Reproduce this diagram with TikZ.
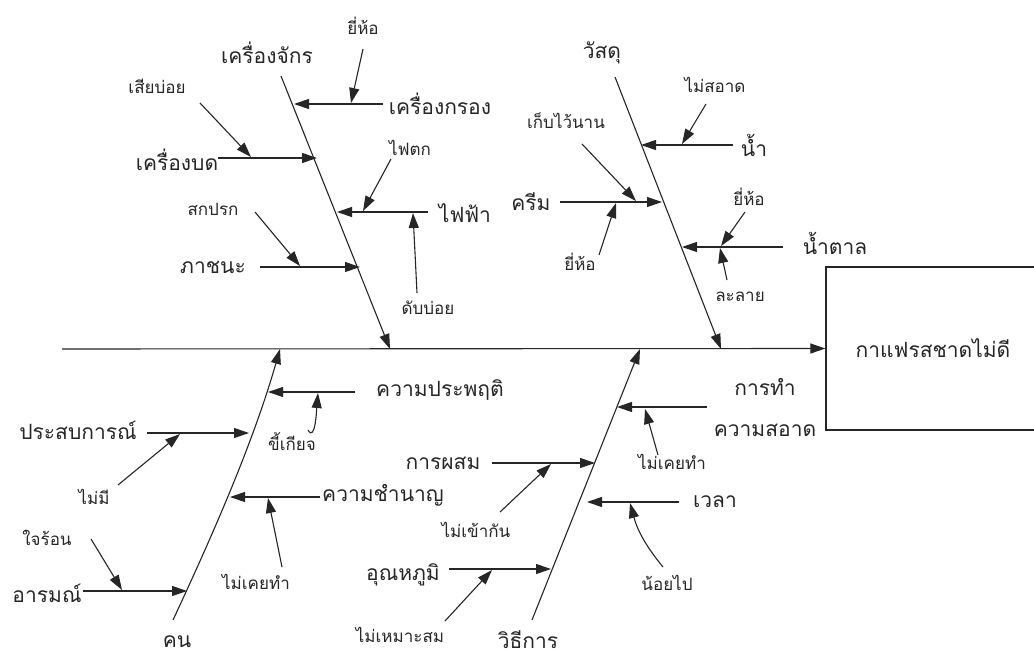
\documentclass[tikz,border=0pt]{standalone}
\usepackage{fontspec}
\newfontfamily\thaifont[Script=Thai]{Loma}
\usetikzlibrary{arrows.meta}
\colorlet{ink}{black!85}
\tikzset{
  big/.style={font=\thaifont\fontsize{21}{21}\selectfont, text=ink, inner sep=0pt},
  small/.style={font=\thaifont\fontsize{17}{17}\selectfont, text=ink, inner sep=0pt},
  bone/.style={draw=ink, line width=1.1pt},
  arr/.style={draw=ink, line width=1.1pt, -{Triangle[length=15pt,width=10pt]}},
  effbox/.style={draw=ink, line width=1.2pt, minimum width=214pt, minimum height=163pt, inner sep=0pt, font=\thaifont\fontsize{21}{21}\selectfont, text=ink}
}
\begin{document}
\begin{tikzpicture}[x=1pt,y=-1pt]
\useasboundingbox[fill=white] (0,0) rectangle (1034,650);
% effect and spine
\node[effbox] (eff) at (933,348.5) {กาแฟรสชาดไม่ดี};
\coordinate (spL) at (62,349);
\draw[arr] (spL) -- (eff.west);

% ---------- Machine ----------
\node[big] (mach) at (267,53) {เครื่องจักร};
\coordinate (mT) at (281,76); \coordinate (mB) at (390,349);
\draw[arr] (mT) -- (mB);
\node[big] (m1) at (440,104) {เครื่องกรอง};
\coordinate (m1s) at (383,104); \coordinate (m1t) at (294,104);
\draw[arr] (m1s) -- (m1t);
\node[small] (m1a) at (363,26) {ยี่ห้อ};
\coordinate (m1as) at (363,49); \coordinate (m1at) at (351,103);
\draw[arr] (m1as) -- (m1at);
\node[big] (m2) at (177,160) {เครื่องบด};
\coordinate (m2s) at (218,158); \coordinate (m2t) at (317,158);
\draw[arr] (m2s) -- (m2t);
\node[small] (m2a) at (157,86) {เสียบ่อย};
\coordinate (m2as) at (200,103); \coordinate (m2at) at (251,157);
\draw[arr] (m2as) -- (m2at);
\node[big] (m3) at (465,213) {ไฟฟ้า};
\coordinate (m3s) at (428,212); \coordinate (m3t) at (337,212);
\draw[arr] (m3s) -- (m3t);
\node[small] (m3a) at (410,148) {ไฟตก};
\coordinate (m3as) at (391,159); \coordinate (m3at) at (363,211);
\draw[arr] (m3as) -- (m3at);
\node[small] (m3b) at (428,308) {ดับบ่อย};
\coordinate (m3bs) at (417,293); \coordinate (m3bt) at (413,213);
\draw[arr] (m3bs) -- (m3bt);
\node[big] (m4) at (213,267) {ภาชนะ};
\coordinate (m4s) at (260,267); \coordinate (m4t) at (360,267);
\draw[arr] (m4s) -- (m4t);
\node[small] (m4a) at (213,209) {สกปรก};
\coordinate (m4as) at (255,212); \coordinate (m4at) at (300,266);
\draw[arr] (m4as) -- (m4at);

% ---------- Materials ----------
\node[big] (mat) at (602,53) {วัสดุ};
\coordinate (sT) at (615,77); \coordinate (sB) at (721,349);
\draw[arr] (sT) -- (sB);
\node[big] (s1) at (754,145) {น้ำ};
\coordinate (s1s) at (733,145); \coordinate (s1t) at (641,145);
\draw[arr] (s1s) -- (s1t);
\node[small] (s1a) at (715,85) {ไม่สอาด};
\coordinate (s1as) at (706,104); \coordinate (s1at) at (682,144);
\draw[arr] (s1as) -- (s1at);
\node[big] (s2) at (531,202) {ครีม};
\coordinate (s2s) at (560,202); \coordinate (s2t) at (662,202);
\draw[arr] (s2s) -- (s2t);
\node[small] (s2a) at (566,121) {เก็บไว้นาน};
\coordinate (s2as) at (582,144); \coordinate (s2at) at (636,201);
\draw[arr] (s2as) -- (s2at);
\node[small] (s2b) at (580,262) {ยี่ห้อ};
\coordinate (s2bs) at (599,255); \coordinate (s2bt) at (616,203);
\draw[arr] (s2bs) -- (s2bt);
\node[big] (s3) at (835,243) {น้ำตาล};
\coordinate (s3s) at (783,247); \coordinate (s3t) at (682,247);
\draw[arr] (s3s) -- (s3t);
\node[small] (s3a) at (749,197) {ยี่ห้อ};
\coordinate (s3as) at (745,212); \coordinate (s3at) at (721,246);
\draw[arr] (s3as) -- (s3at);
\node[small] (s3b) at (740,297) {ละลาย};
\coordinate (s3bs) at (727,280); \coordinate (s3bt) at (720,248);
\draw[arr] (s3bs) -- (s3bt);

% ---------- People ----------
\node[big] (ppl) at (177,642) {คน};
\coordinate (pB) at (173,620); \coordinate (pT) at (280,349);
\draw[arr] (pB) .. controls (215,530) and (254,440) .. (pT);
\node[big] (p1) at (440,390) {ความประพฤติ};
\coordinate (p1s) at (355,392); \coordinate (p1t) at (268,392);
\draw[arr] (p1s) -- (p1t);
\node[small] (p1a) at (292,442) {ขี้เกียจ};
\coordinate (p1as) at (308,430); \coordinate (p1at) at (318,393);
\draw[arr] (p1as) to[out=-60,in=-95] (p1at);
\node[big] (p2) at (78,430) {ประสบการณ์};
\coordinate (p2s) at (147,433); \coordinate (p2t) at (249,433);
\draw[arr] (p2s) -- (p2t);
\node[small] (p2a) at (94,497) {ไม่มี};
\coordinate (p2as) at (118,485); \coordinate (p2at) at (180,434);
\draw[arr] (p2as) -- (p2at);
\node[big] (p3) at (383,495) {ความชำนาญ};
\coordinate (p3s) at (320,497); \coordinate (p3t) at (230,497);
\draw[arr] (p3s) -- (p3t);
\node[small] (p3a) at (256,582) {ไม่เคยทำ};
\coordinate (p3as) at (282,567); \coordinate (p3at) at (268,498);
\draw[arr] (p3as) -- (p3at);
\node[big] (p4) at (47,593) {อารมณ์};
\coordinate (p4s) at (83,591); \coordinate (p4t) at (187,591);
\draw[arr] (p4s) -- (p4t);
\node[small] (p4a) at (47,538) {ใจร้อน};
\coordinate (p4as) at (91,539); \coordinate (p4at) at (122,590);
\draw[arr] (p4as) -- (p4at);

% ---------- Method ----------
\node[big] (meth) at (528,640) {วิธีการ};
\coordinate (wB) at (532,620); \coordinate (wT) at (640,349);
\draw[arr] (wB) -- (wT);
\node[big] (w1) at (765,387) {การทำ};
\node[big] (w1b) at (765,430) {ความสอาด};
\coordinate (w1s) at (707,407); \coordinate (w1t) at (617,407);
\draw[arr] (w1s) -- (w1t);
\node[small] (w1a) at (672,462) {ไม่เคยทำ};
\coordinate (w1as) at (658,455); \coordinate (w1at) at (645,409);
\draw[arr] (w1as) -- (w1at);
\node[big] (w2) at (443,463) {การผสม};
\coordinate (w2s) at (492,463); \coordinate (w2t) at (595,463);
\draw[arr] (w2s) -- (w2t);
\node[small] (w2a) at (476,530) {ไม่เข้ากัน};
\coordinate (w2as) at (500,512); \coordinate (w2at) at (551,464);
\draw[arr] (w2as) -- (w2at);
\node[big] (w3) at (715,502) {เวลา};
\coordinate (w3s) at (679,502); \coordinate (w3t) at (587,502);
\draw[arr] (w3s) -- (w3t);
\node[small] (w3a) at (667,583) {น้อยไป};
\coordinate (w3as) at (663,567); \coordinate (w3at) at (630,503);
\draw[arr] (w3as) to[bend left=12] (w3at);
\node[big] (w4) at (403,575) {อุณหภูมิ};
\coordinate (w4s) at (449,569); \coordinate (w4t) at (551,569);
\draw[arr] (w4s) -- (w4t);
\node[small] (w4a) at (400,635) {ไม่เหมาะสม};
\coordinate (w4as) at (445,621); \coordinate (w4at) at (492,570);
\draw[arr] (w4as) -- (w4at);
\end{tikzpicture}
\end{document}
